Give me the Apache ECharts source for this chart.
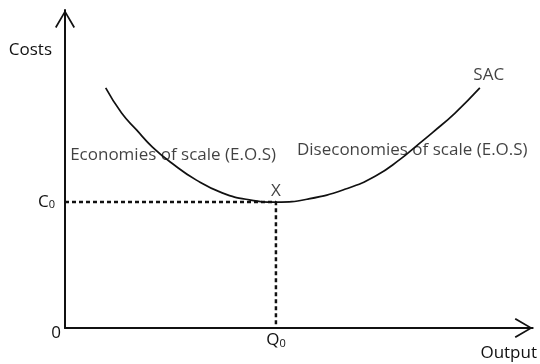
<!DOCTYPE html>
<html>
<head>
<meta charset="utf-8">
<script src="https://cdn.jsdelivr.net/npm/echarts@6/dist/echarts.min.js"></script>
<style>
  html, body { margin: 0; padding: 0; background: #fff; }
  #chart { width: 540px; height: 364px; }
</style>
</head>
<body>
<div id="chart"></div>
<script>
// SAC curve (output, cost) in axis units
const sacOutput = [8.7, 12.1, 15.3, 18.7, 22.8, 28.1, 33.6, 39.4, 45.1, 52.1, 60.0, 66.4, 71.7, 75.1, 78.7, 83.4, 88.7];
const sacCost = [75.5, 67.6, 62.3, 56.9, 51.9, 46.5, 42.5, 40.3, 39.6, 40.6, 43.7, 47.8, 53.1, 57.2, 61.6, 67.6, 75.5];

// minimum point X
const q0 = 45.1;
const c0 = 39.6;

// annotation texts and where they sit
const noteText = ['Economies of scale (E.O.S)', 'Diseconomies of scale (E.O.S)', 'SAC', 'X'];
const noteOutput = [1.1, 49.6, 90.6, 45.1];
const noteCost = [54.4, 56.0, 79.6, 43.1];
const noteAlign = ['left', 'left', 'center', 'center'];

const ink = '#111';
const font = 'Open Sans';
const fs = 17;

// open chevron used as axis arrow head (points up, rotated by echarts)
const chevron = 'path://M0,17 L10,0 L20,17 L18.5,18 L10,3.2 L1.5,18 Z';

const subRich = {
    sub: { fontSize: 11, fontFamily: font, color: ink, verticalAlign: 'bottom', padding: [6, 0, 0, 0] },
    gap: { width: 6 },
    z: { fontSize: fs, fontFamily: font, color: ink, padding: [10, 0, 0, 0] }
};

const chart = echarts.init(document.getElementById('chart'), null, { renderer: 'canvas' });

chart.setOption({
    animation: false,
    backgroundColor: '#fff',
    textStyle: { fontFamily: font, color: ink },
    grid: { left: 65, right: 5, top: 10, bottom: 36, containLabel: false },
    xAxis: {
        type: 'value',
        min: 0,
        max: 100,
        name: 'Output',
        nameLocation: 'end',
        nameGap: -24,
        nameTextStyle: { fontSize: fs, fontFamily: font, color: ink, align: 'center', verticalAlign: 'top', padding: [17, 0, 0, 0] },
        axisLine: {
            show: true,
            symbol: ['none', chevron],
            symbolSize: [22, 18],
            symbolOffset: [0, -9],
            lineStyle: { color: ink, width: 2 }
        },
        axisTick: { show: false },
        splitLine: { show: false },
        axisLabel: {
            customValues: [q0],
            margin: 4,
            fontSize: fs,
            fontFamily: font,
            color: ink,
            formatter: () => 'Q{sub|0}',
            rich: subRich
        }
    },
    yAxis: {
        type: 'value',
        min: 0,
        max: 100,
        name: 'Costs',
        nameLocation: 'end',
        nameGap: -40,
        nameTextStyle: { fontSize: fs, fontFamily: font, color: ink, align: 'right', verticalAlign: 'middle', padding: [0, 13, 0, 0] },
        axisLine: {
            show: true,
            symbol: ['none', chevron],
            symbolSize: [20, 18],
            symbolOffset: [0, -9],
            lineStyle: { color: ink, width: 2 }
        },
        axisTick: { show: false },
        splitLine: { show: false },
        axisLabel: {
            customValues: [0, c0],
            margin: 4,
            fontSize: fs,
            fontFamily: font,
            color: ink,
            formatter: (v) => (v === 0 ? '{z|0}' : 'C{sub|0}{gap|}'),
            rich: subRich
        }
    },
    series: [
        {
            // guide lines to the minimum
            name: 'guide',
            type: 'line',
            data: [[0, c0], [q0, c0], [q0, 0]],
            symbol: 'none',
            lineStyle: { color: ink, width: 2.5, type: [4, 3] },
            z: 1
        },
        {
            name: 'SAC',
            type: 'line',
            smooth: true,
            data: sacOutput.map((x, i) => [x, sacCost[i]]),
            symbol: 'none',
            lineStyle: { color: ink, width: 1.7 },
            z: 2
        },
        {
            name: 'notes',
            type: 'scatter',
            symbolSize: 0,
            data: noteText.map((t, i) => ({
                value: [noteOutput[i], noteCost[i]],
                label: { formatter: t, align: noteAlign[i] }
            })),
            label: {
                show: true,
                position: 'inside',
                fontSize: fs,
                fontFamily: font,
                color: ink,
                verticalAlign: 'middle'
            },
            z: 3
        }
    ]
});
</script>
</body>
</html>
